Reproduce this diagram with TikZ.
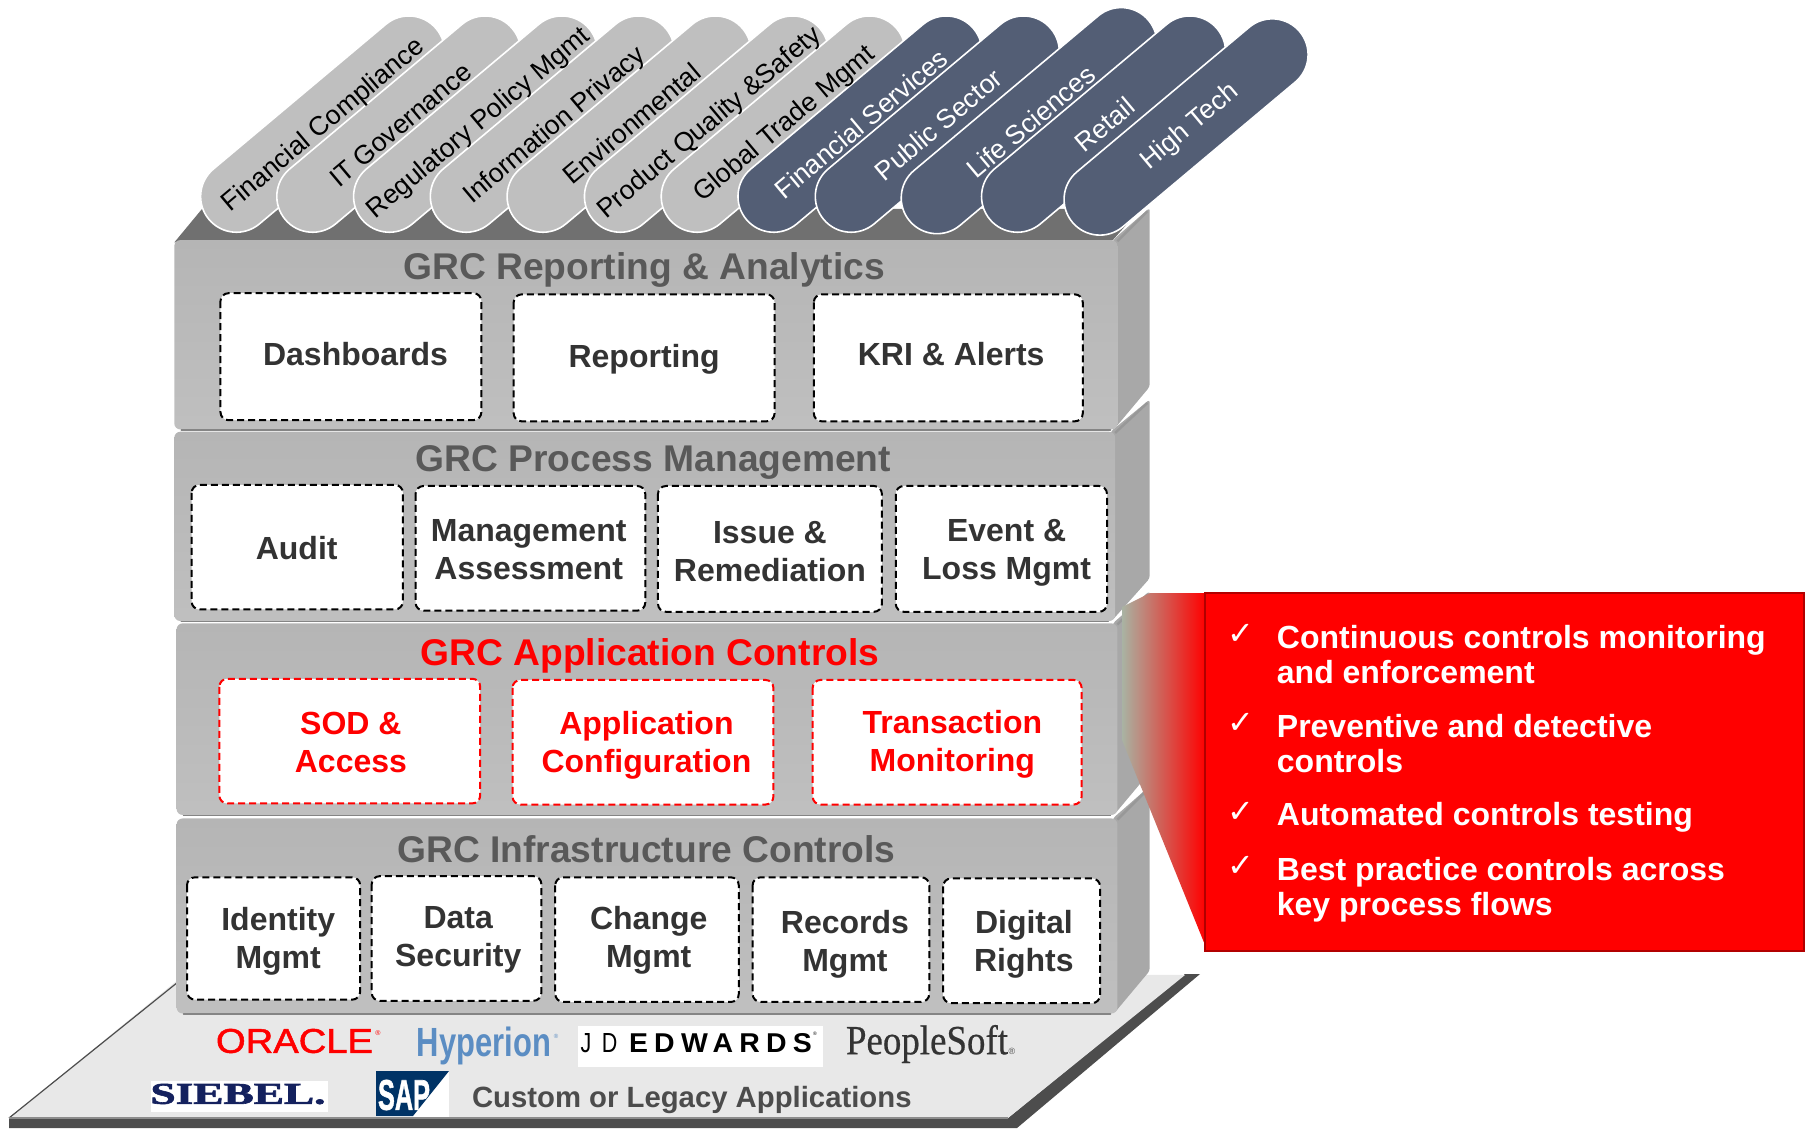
\documentclass[tikz,border=0pt]{standalone}
\usepackage{fontspec}
\usepackage{graphicx}
\setmainfont{Liberation Sans}
\newfontfamily\logoserif[FakeBold=0.6]{Liberation Serif}
\newfontfamily\siebelfont[BoldFeatures={FakeBold=2}]{Liberation Serif}
\newfontfamily\heavysans[BoldFeatures={FakeBold=1.5}]{Liberation Sans}
\newfontfamily\oraclefont[FakeBold=1.4]{Liberation Sans}
\newfontfamily\dejavu{DejaVu Sans}
\newfontfamily\spaced[LetterSpace=22]{Liberation Sans}
\definecolor{pillgray}{HTML}{BFBFBF}
\definecolor{pillblue}{HTML}{535E75}
\definecolor{sidegray}{HTML}{A8A8A8}
\definecolor{topdark}{HTML}{707070}
\definecolor{titlegray}{HTML}{595959}
\definecolor{boxtext}{HTML}{333333}
\definecolor{boxred}{HTML}{FF0000}
\definecolor{navy}{HTML}{003366}
\definecolor{siebelblue}{HTML}{14215E}
\definecolor{hyperblue}{HTML}{5B8DC3}
\definecolor{platformfill}{HTML}{E8E8E8}
\definecolor{platformdark}{HTML}{4D4D4D}
\definecolor{wedgegray}{HTML}{A9B3A3}
\tikzset{
  pillshape/.style={draw=white,line width=1.6pt,rounded corners=35.8pt,rotate=40,minimum height=71.6pt,inner sep=0pt,outer sep=0pt},
  graypill/.style={pillshape,fill=pillgray},
  bluepill/.style={pillshape,fill=pillblue},
  pilltext/.style={rotate=40,font=\fontsize{26.6}{30}\selectfont,inner sep=0pt},
  txt/.style={align=center,inner sep=0pt,anchor=base},
  layertitle/.style={txt,yshift=-13pt,font=\fontsize{37.2}{42}\selectfont\bfseries,text=titlegray},
  boxlabel/.style={txt,yshift=-11.5pt,font=\fontsize{32}{38}\selectfont\bfseries,text=boxtext},
  twolines/.style={yshift=-19pt},
  redlabel/.style={boxlabel,text=boxred},
  dashbox/.style={draw=black,fill=white,line width=2pt,dash pattern=on 7pt off 4pt,rounded corners=8pt},
  reddashbox/.style={dashbox,draw=boxred},
  calloutlabel/.style={anchor=base west,align=left,inner sep=0pt,text=white,yshift=-11.5pt,font=\fontsize{32}{35}\selectfont\bfseries},
  callouttwo/.style={yshift=-17.5pt},
  checkmark/.style={inner sep=0pt,text=white,font=\fontsize{32}{32}\selectfont\dejavu},
  logo/.style={inner sep=0pt,outer sep=0pt},
}
\newcommand{\stacklayer}[4]{%
  \fill[sidegray,rounded corners=3pt] (#3-4,#2) -- (996,#2-28) -- (996,#4-37) -- (#3-3,#4) -- cycle;
  \draw[black!45,line width=2.5pt,opacity=.55] (#3,#2+1) -- (994,#2-25);
  \shade[top color=black!29,bottom color=black!25,rounded corners=6pt] (#1,#2) rectangle (#3,#4);
  \draw[black!48,line width=1.4pt,line cap=round] (#1+6,#4+.5) -- (#3-6,#4+.5);
}
\begin{document}
\begin{tikzpicture}[x=1.15434pt,y=-1.15434pt]
\useasboundingbox (0,0) rectangle (1568,977.2);

% platform
\begin{scope}[scale=0.8663]
\fill[platformdark] (9,1118) -- (9,1128) -- (1017,1128) -- (1200,974) -- (1185,974) -- (1008,1118) -- cycle;
\fill[platformfill] (9,1118) -- (190,970) -- (1185,975) -- (1008,1118) -- cycle;
\draw[platformdark,line width=1.2pt] (9,1118) -- (178,982);
\draw[black!45,line width=1.2pt] (9,1118) -- (1008,1118);
\end{scope}

% roof
\fill[topdark] (151,210) -- (175,181) -- (988,181) -- (964,208) -- cycle;

% layers
\stacklayer{153}{709}{968}{878}
\stacklayer{153}{540}{968}{706}
\stacklayer{151}{374}{966}{538}
\stacklayer{151}{208}{968}{372}

% pills
\node[graypill,minimum width=296.7pt] (p1) at (279.5,107.5) {};
\node[graypill,minimum width=296.7pt] (p2) at (345.5,107.5) {};
\node[graypill,minimum width=296.7pt] (p3) at (412,107.5) {};
\node[graypill,minimum width=296.7pt] (p4) at (478.5,107.5) {};
\node[graypill,minimum width=296.7pt] (p5) at (545,107.5) {};
\node[graypill,minimum width=296.7pt] (p6) at (612,107.5) {};
\node[graypill,minimum width=296.7pt] (p7) at (678.5,107.5) {};
\node[bluepill,minimum width=296.7pt] (p8) at (745,107.5) {};
\node[bluepill,minimum width=296.7pt] (p9) at (812,107.5) {};
\node[bluepill,minimum width=312pt] (p10) at (891.5,104.5) {};
\node[bluepill,minimum width=296.7pt] (p11) at (956,107.5) {};
\node[bluepill,minimum width=296.7pt] (p12) at (1027.5,110) {};

\node[pilltext] (t1) at (280.5,109) {Financial Compliance};
\node[pilltext] (t2) at (347,108) {IT Governance};
\node[pilltext] (t3) at (415,107) {Regulatory Policy Mgmt};
\node[pilltext] (t4) at (481,109) {Information Privacy};
\node[pilltext] (t5) at (547,107) {Environmental};
\node[pilltext] (t6) at (615,107) {Product Quality \&Safety};
\node[pilltext] (t7) at (680,108) {Global Trade Mgmt};
\node[pilltext,text=white] (t8) at (746,107) {Financial Services};
\node[pilltext,text=white] (t9) at (813,108) {Public Sector};
\node[pilltext,text=white] (t10) at (893,105) {Life Sciences};
\node[pilltext,text=white] (t11) at (957,108) {Retail};
\node[pilltext,text=white] (t12) at (1031,110) {High Tech};

% layer titles
\node[layertitle] (h1) at (558,231) {GRC Reporting \& Analytics};
\node[layertitle] (h2) at (566,397) {GRC Process Management};
\node[layertitle,text=boxred] (h3) at (563,565) {GRC Application Controls};
\node[layertitle] (h4) at (560,736) {GRC Infrastructure Controls};

% dashed boxes
\draw[dashbox] (191,254) rectangle (417,364);
\draw[dashbox] (445,255) rectangle (671,365);
\draw[dashbox] (705,255) rectangle (938,365);
\draw[dashbox] (166,420) rectangle (349,528);
\draw[dashbox] (360,421) rectangle (559,529);
\draw[dashbox] (570,421) rectangle (764,530);
\draw[dashbox] (776,421) rectangle (959,530);
\draw[reddashbox] (190,588) rectangle (416,696);
\draw[reddashbox] (444,589) rectangle (670,697);
\draw[reddashbox] (704,589) rectangle (937,697);
\draw[dashbox] (162,760) rectangle (312,866);
\draw[dashbox] (322,759) rectangle (469,867);
\draw[dashbox] (481,760) rectangle (640,868);
\draw[dashbox] (652,760) rectangle (805,868);
\draw[dashbox] (817,761) rectangle (953,869);

\node[boxlabel] (b1) at (308,307) {Dashboards};
\node[boxlabel] (b2) at (558,308) {Reporting};
\node[boxlabel] (b3) at (824,307) {KRI \& Alerts};
\node[boxlabel] (b4) at (257,475) {Audit};
\node[boxlabel,twolines] (b5) at (458,476) {Management\\Assessment};
\node[boxlabel,twolines] (b6) at (667,477) {Issue \&\\Remediation};
\node[boxlabel,twolines] (b7) at (872,476) {Event \&\\Loss Mgmt};
\node[redlabel,twolines] (b8) at (304,643) {SOD \&\\Access};
\node[redlabel,twolines] (b9) at (560,643) {Application\\Configuration};
\node[redlabel,twolines] (b10) at (825,642) {Transaction\\Monitoring};
\node[boxlabel,twolines] (b11) at (241,813) {Identity\\Mgmt};
\node[boxlabel,twolines] (b12) at (397,811) {Data\\Security};
\node[boxlabel,twolines] (b13) at (562,812) {Change\\Mgmt};
\node[boxlabel,twolines] (b14) at (732,815) {Records\\Mgmt};
\node[boxlabel,twolines] (b15) at (887,815) {Digital\\Rights};

% callout
\begin{scope}[scale=0.8663]
\shade[left color=wedgegray,right color=boxred] (1122,607) -- (1150,593) -- (1205,593) -- (1205,945) -- (1122,740) -- cycle;
\draw[draw=black!30!boxred,fill=boxred,line width=2.6pt] (1205,593) rectangle (1804,951);
\end{scope}
\node[checkmark] (c1) at (1075,550) {✓};
\node[checkmark] (c2) at (1075,627) {✓};
\node[checkmark] (c3) at (1075,704) {✓};
\node[checkmark] (c4) at (1075,751) {✓};
\node[calloutlabel,callouttwo] (l1) at (1106,567) {Continuous controls monitoring\\and enforcement};
\node[calloutlabel,callouttwo] (l2) at (1106,644) {Preventive and detective\\controls};
\node[calloutlabel] (l3) at (1106,705) {Automated controls testing};
\node[calloutlabel,callouttwo] (l4) at (1106,768) {Best practice controls across\\key process flows};

% platform logos (full-size pixel coordinates)
\begin{scope}[scale=0.8663]
\node[logo,text=red] (oracle) at (294.5,1041) {\resizebox{157pt}{24pt}{\oraclefont ORACLE}};
\node[logo,text=red,font=\fontsize{7}{7}\selectfont] (oracler) at (378,1033) {®};
\node[logo,text=hyperblue] (hyperion) at (484,1046) {\resizebox*{134pt}{38pt}{\bfseries Hyperion}};
\node[logo,text=hyperblue,font=\fontsize{6}{6}\selectfont] (hyperr) at (556,1036) {®};
\fill[white] (578,1026) rectangle (823,1067);
\node[logo,text=black] (jd) at (599,1043.5) {\resizebox{37pt}{19pt}{\spaced J D}};
\node[logo,text=black] (edw) at (720.5,1043.5) {\resizebox{183pt}{19pt}{\spaced\bfseries EDWARDS}};
\node[logo,text=black,font=\fontsize{5}{5}\selectfont] (edwr) at (815,1034) {®};
\node[logo,text=black!80] (psoft) at (927,1044) {\resizebox*{162pt}{38pt}{\logoserif PeopleSoft}};
\node[logo,text=black!70,font=\fontsize{9}{9}\selectfont] (psoftr) at (1012,1051) {®};
\fill[white] (151,1081) rectangle (328,1112);
\node[logo,text=siebelblue] (siebel) at (238,1094) {\resizebox{175pt}{20pt}{\siebelfont\bfseries SIEBEL.}};
\fill[white] (376,1071) rectangle (449,1117);
\fill[navy] (376,1071) -- (449,1071) -- (413,1116) -- (376,1116) -- cycle;
\node[logo,text=white] (sap) at (404,1095) {\resizebox{52pt}{30pt}{\heavysans\bfseries SAP}};
\node[logo,text=black!70,anchor=west,font=\fontsize{29.3}{32}\selectfont\bfseries] (custom) at (472,1100) {Custom or Legacy Applications};
\end{scope}
\end{tikzpicture}
\end{document}
